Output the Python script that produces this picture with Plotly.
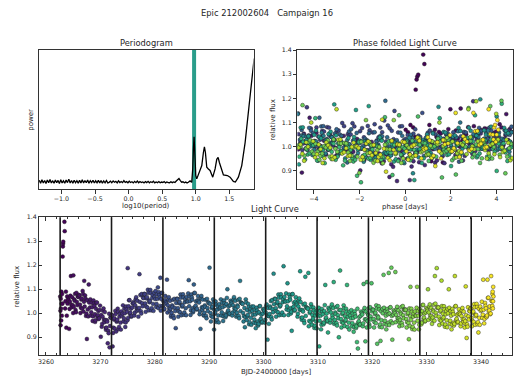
import numpy as np
import plotly.graph_objects as go

# ---------------------------------------------------------------- data
target = "Epic 212002604"
campaign = "Campaign 16"

# Periodogram (log10 of trial period in days, normalised power)
log_period = [
    -1.33, -1.31, -1.29, -1.27, -1.25, -1.23, -1.21, -1.19, -1.17, -1.15,
    -1.13, -1.11, -1.09, -1.07, -1.05, -1.03, -1.01, -0.99, -0.97, -0.95,
    -0.93, -0.91, -0.89, -0.87, -0.85, -0.83, -0.81, -0.79, -0.77, -0.75,
    -0.73, -0.71, -0.69, -0.67, -0.65, -0.63, -0.61, -0.59, -0.57, -0.55,
    -0.53, -0.51, -0.49, -0.47, -0.45, -0.43, -0.41, -0.39, -0.37, -0.35,
    -0.33, -0.31,
    -0.29, -0.27, -0.25, -0.23, -0.21, -0.19, -0.17, -0.15, -0.13, -0.11,
    -0.09, -0.07, -0.05, -0.03, -0.01, 0.01, 0.03, 0.05, 0.07, 0.09,
    0.11, 0.13, 0.15, 0.17, 0.19, 0.21, 0.23, 0.25, 0.27, 0.29,
    0.31, 0.33, 0.35, 0.37, 0.39, 0.41, 0.43, 0.45, 0.47, 0.49,
    0.51, 0.53, 0.55, 0.57, 0.59,
    0.61, 0.63, 0.65, 0.67, 0.69, 0.71, 0.73, 0.75, 0.77, 0.79,
    0.81, 0.83, 0.85, 0.87, 0.89,
    0.915, 0.94, 0.955, 0.965, 0.975, 0.99, 1.00, 1.015, 1.039, 1.064,
    1.09, 1.114, 1.129, 1.144, 1.164, 1.188, 1.213, 1.253, 1.288, 1.313,
    1.333, 1.352, 1.373, 1.412, 1.471, 1.511, 1.56, 1.59, 1.635, 1.685,
    1.735, 1.784, 1.834, 1.869,
]
power = [
    0.063, 0.042, 0.067, 0.044, 0.061, 0.040, 0.065, 0.046, 0.069, 0.043,
    0.060, 0.041, 0.064, 0.045, 0.062, 0.039, 0.067, 0.044, 0.059, 0.042,
    0.065, 0.046, 0.071, 0.043, 0.061, 0.041, 0.063, 0.045, 0.060, 0.042,
    0.062, 0.044, 0.066, 0.043, 0.061, 0.045, 0.064, 0.042, 0.060, 0.046,
    0.063, 0.043, 0.059, 0.045, 0.062, 0.044, 0.060, 0.042, 0.058, 0.045,
    0.061, 0.044,
    0.048, 0.057, 0.045, 0.058, 0.049, 0.055, 0.044, 0.059, 0.047, 0.054,
    0.046, 0.061, 0.048, 0.053, 0.045, 0.056, 0.047, 0.052, 0.044, 0.055,
    0.046, 0.057, 0.045, 0.054, 0.047, 0.051, 0.044, 0.053, 0.046, 0.055,
    0.045, 0.052, 0.047, 0.056, 0.044, 0.051, 0.046, 0.054, 0.045, 0.050,
    0.047, 0.053, 0.044, 0.051, 0.046,
    0.045, 0.052, 0.046, 0.051, 0.047, 0.058, 0.068, 0.076, 0.060, 0.049,
    0.052, 0.045, 0.050, 0.044, 0.049,
    0.058, 0.048, 0.144, 0.286, 0.374, 0.215, 0.097, 0.073, 0.109, 0.133,
    0.168, 0.262, 0.303, 0.262, 0.156, 0.144, 0.133, 0.085, 0.144, 0.213,
    0.227, 0.190, 0.156, 0.101, 0.097, 0.085, 0.055, 0.050, 0.085, 0.168,
    0.333, 0.546, 0.782, 0.936,
]

# Best period and reference epoch of the fold
period = 9.45
epoch = 3262.6

# Light curve: BJD-2400000 and relative flux
bjd = [
    3262.62, 3262.68, 3262.75, 3262.83, 3262.91,
    3263.03, 3263.06, 3263.10, 3263.13, 3263.17, 3263.39, 3263.44, 3263.58, 3263.74, 3263.90,
    3264.08, 3264.25, 3264.41, 3264.58, 3264.74, 3264.91,
    3265.03, 3265.19, 3265.36, 3265.52, 3265.69, 3265.86,
    3266.08, 3266.25, 3266.41, 3266.58, 3266.74, 3266.91,
    3267.03, 3267.19, 3267.36, 3267.52, 3267.69, 3267.86,
    3268.08, 3268.25, 3268.41, 3268.58, 3268.74, 3268.91,
    3269.03, 3269.19, 3269.36, 3269.52, 3269.69, 3269.86,
    3270.08, 3270.25, 3270.41, 3270.58, 3270.74, 3270.91,
    3271.03, 3271.19, 3271.36, 3271.52, 3271.69, 3271.86,
    3272.08, 3272.25, 3272.41, 3272.58, 3272.74, 3272.91,
    3273.03, 3273.19, 3273.36, 3273.52, 3273.69, 3273.86,
    3274.08, 3274.25, 3274.41, 3274.58, 3274.74, 3274.91,
    3275.03, 3275.19, 3275.36, 3275.52, 3275.69, 3275.86,
    3276.08, 3276.25, 3276.41, 3276.58, 3276.74, 3276.91,
    3277.03, 3277.19, 3277.36, 3277.52, 3277.69, 3277.86,
    3278.08, 3278.25, 3278.41, 3278.58, 3278.74, 3278.91,
    3279.03, 3279.19, 3279.36, 3279.52, 3279.69, 3279.86,
    3280.08, 3280.25, 3280.41, 3280.58, 3280.74, 3280.91,
    3281.03, 3281.19, 3281.36, 3281.52, 3281.69, 3281.86,
    3282.08, 3282.25, 3282.41, 3282.58, 3282.74, 3282.91,
    3283.03, 3283.19, 3283.36, 3283.52, 3283.69, 3283.86,
    3284.08, 3284.25, 3284.41, 3284.58, 3284.74, 3284.91,
    3285.03, 3285.19, 3285.36, 3285.52, 3285.69, 3285.86,
    3286.08, 3286.25, 3286.41, 3286.58, 3286.74, 3286.91,
    3287.03, 3287.19, 3287.36, 3287.52, 3287.69, 3287.86,
    3288.08, 3288.25, 3288.41, 3288.58, 3288.74, 3288.91,
    3289.03, 3289.19, 3289.36, 3289.52, 3289.69, 3289.86,
    3290.08, 3290.25, 3290.41, 3290.58, 3290.74, 3290.91,
    3291.03, 3291.19, 3291.36, 3291.52, 3291.69, 3291.86,
    3292.08, 3292.25, 3292.41, 3292.58, 3292.74, 3292.91,
    3293.03, 3293.19, 3293.36, 3293.52, 3293.69, 3293.86,
    3294.08, 3294.25, 3294.41, 3294.58, 3294.74, 3294.91,
    3295.03, 3295.19, 3295.36, 3295.52, 3295.69, 3295.86,
    3296.08, 3296.25, 3296.41, 3296.58, 3296.74, 3296.91,
    3297.03, 3297.19, 3297.36, 3297.52, 3297.69, 3297.86,
    3298.08, 3298.25, 3298.41, 3298.58, 3298.74, 3298.91,
    3299.03, 3299.19, 3299.36, 3299.52, 3299.69, 3299.86,
    3300.08, 3300.25, 3300.41, 3300.58, 3300.74, 3300.91,
    3301.03, 3301.19, 3301.36, 3301.52, 3301.69, 3301.86,
    3302.08, 3302.25, 3302.41, 3302.58, 3302.74, 3302.91,
    3303.03, 3303.19, 3303.36, 3303.52, 3303.69, 3303.86,
    3304.08, 3304.25, 3304.41, 3304.58, 3304.74, 3304.91,
    3305.03, 3305.19, 3305.36, 3305.52, 3305.69, 3305.86,
    3306.08, 3306.25, 3306.41, 3306.58, 3306.74, 3306.91,
    3307.03, 3307.19, 3307.36, 3307.52, 3307.69, 3307.86,
    3308.08, 3308.25, 3308.41, 3308.58, 3308.74, 3308.91,
    3309.03, 3309.19, 3309.36, 3309.52, 3309.69, 3309.86,
    3310.08, 3310.25, 3310.41, 3310.58, 3310.74, 3310.91,
    3311.03, 3311.19, 3311.36, 3311.52, 3311.69, 3311.86,
    3312.08, 3312.25, 3312.41, 3312.58, 3312.74, 3312.91,
    3313.03, 3313.19, 3313.36, 3313.52, 3313.69, 3313.86,
    3314.08, 3314.25, 3314.41, 3314.58, 3314.74, 3314.91,
    3315.03, 3315.19, 3315.36, 3315.52, 3315.69, 3315.86,
    3316.08, 3316.25, 3316.41, 3316.58, 3316.74, 3316.91,
    3317.03, 3317.19, 3317.36, 3317.52, 3317.69, 3317.86,
    3318.08, 3318.25, 3318.41, 3318.58, 3318.74, 3318.91,
    3319.03, 3319.19, 3319.36, 3319.52, 3319.69, 3319.86,
    3320.08, 3320.25, 3320.41, 3320.58, 3320.74, 3320.91,
    3321.03, 3321.19, 3321.36, 3321.52, 3321.69, 3321.86,
    3322.08, 3322.25, 3322.41, 3322.58, 3322.74, 3322.91,
    3323.03, 3323.19, 3323.36, 3323.52, 3323.69, 3323.86,
    3324.08, 3324.25, 3324.41, 3324.58, 3324.74, 3324.91,
    3325.03, 3325.19, 3325.36, 3325.52, 3325.69, 3325.86,
    3326.08, 3326.25, 3326.41, 3326.58, 3326.74, 3326.91,
    3327.03, 3327.19, 3327.36, 3327.52, 3327.69, 3327.86,
    3328.08, 3328.25, 3328.41, 3328.58, 3328.74, 3328.91,
    3329.03, 3329.19, 3329.36, 3329.52, 3329.69, 3329.86,
    3330.08, 3330.25, 3330.41, 3330.58, 3330.74, 3330.91,
    3331.03, 3331.19, 3331.36, 3331.52, 3331.69, 3331.86,
    3332.08, 3332.25, 3332.41, 3332.58, 3332.74, 3332.91,
    3333.03, 3333.19, 3333.36, 3333.52, 3333.69, 3333.86,
    3334.08, 3334.25, 3334.41, 3334.58, 3334.74, 3334.91,
    3335.03, 3335.19, 3335.36, 3335.52, 3335.69, 3335.86,
    3336.08, 3336.25, 3336.41, 3336.58, 3336.74, 3336.91,
    3337.03, 3337.19, 3337.36, 3337.52, 3337.69, 3337.86,
    3338.08, 3338.25, 3338.41, 3338.58, 3338.74, 3338.91,
    3339.03, 3339.19, 3339.36, 3339.52, 3339.69, 3339.86,
    3340.08, 3340.25, 3340.41, 3340.58, 3340.74, 3340.91,
    3341.03, 3341.19, 3341.36, 3341.52, 3341.69, 3341.86,
    3342.04, 3342.10, 3342.17, 3342.24,
    # interleaved cadences
    3262.65, 3262.72, 3262.79, 3262.87, 3262.95,
    3263.52, 3263.66, 3263.82, 3263.97,
    3264.16, 3264.33, 3264.49, 3264.66, 3264.82, 3264.99,
    3265.11, 3265.27, 3265.44, 3265.61, 3265.77, 3265.94,
    3266.16, 3266.33, 3266.49, 3266.66, 3266.82, 3266.99,
    3267.11, 3267.27, 3267.44, 3267.61, 3267.77, 3267.94,
    3268.16, 3268.33, 3268.49, 3268.66, 3268.82, 3268.99,
    3269.11, 3269.27, 3269.44, 3269.61, 3269.77, 3269.94,
    3270.16, 3270.33, 3270.49, 3270.66, 3270.82, 3270.99,
    3271.11, 3271.27, 3271.44, 3271.61, 3271.77, 3271.94,
    3272.16, 3272.33, 3272.49, 3272.66, 3272.82, 3272.99,
    3273.11, 3273.27, 3273.44, 3273.61, 3273.77, 3273.94,
    3274.16, 3274.33, 3274.49, 3274.66, 3274.82, 3274.99,
    3275.11, 3275.27, 3275.44, 3275.61, 3275.77, 3275.94,
    3276.16, 3276.33, 3276.49, 3276.66, 3276.82, 3276.99,
    3277.11, 3277.27, 3277.44, 3277.61, 3277.77, 3277.94,
    3278.16, 3278.33, 3278.49, 3278.66, 3278.82, 3278.99,
    3279.11, 3279.27, 3279.44, 3279.61, 3279.77, 3279.94,
    3280.16, 3280.33, 3280.49, 3280.66, 3280.82, 3280.99,
    3281.11, 3281.27, 3281.44, 3281.61, 3281.77, 3281.94,
    3282.16, 3282.33, 3282.49, 3282.66, 3282.82, 3282.99,
    3283.11, 3283.27, 3283.44, 3283.61, 3283.77, 3283.94,
    3284.16, 3284.33, 3284.49, 3284.66, 3284.82, 3284.99,
    3285.11, 3285.27, 3285.44, 3285.61, 3285.77, 3285.94,
    3286.16, 3286.33, 3286.49, 3286.66, 3286.82, 3286.99,
    3287.11, 3287.27, 3287.44, 3287.61, 3287.77, 3287.94,
    3288.16, 3288.33, 3288.49, 3288.66, 3288.82, 3288.99,
    3289.11, 3289.27, 3289.44, 3289.61, 3289.77, 3289.94,
    3290.16, 3290.33, 3290.49, 3290.66, 3290.82, 3290.99,
    3291.11, 3291.27, 3291.44, 3291.61, 3291.77, 3291.94,
    3292.16, 3292.33, 3292.49, 3292.66, 3292.82, 3292.99,
    3293.11, 3293.27, 3293.44, 3293.61, 3293.77, 3293.94,
    3294.16, 3294.33, 3294.49, 3294.66, 3294.82, 3294.99,
    3295.11, 3295.27, 3295.44, 3295.61, 3295.77, 3295.94,
    3296.16, 3296.33, 3296.49, 3296.66, 3296.82, 3296.99,
    3297.11, 3297.27, 3297.44, 3297.61, 3297.77, 3297.94,
    3298.16, 3298.33, 3298.49, 3298.66, 3298.82, 3298.99,
    3299.11, 3299.27, 3299.44, 3299.61, 3299.77, 3299.94,
    3300.16, 3300.33, 3300.49, 3300.66, 3300.82, 3300.99,
    3301.11, 3301.27, 3301.44, 3301.61, 3301.77, 3301.94,
    3302.16, 3302.33, 3302.49, 3302.66, 3302.82, 3302.99,
    3303.11, 3303.27, 3303.44, 3303.61, 3303.77, 3303.94,
    3304.16, 3304.33, 3304.49, 3304.66, 3304.82, 3304.99,
    3305.11, 3305.27, 3305.44, 3305.61, 3305.77, 3305.94,
    3306.16, 3306.33, 3306.49, 3306.66, 3306.82, 3306.99,
    3307.11, 3307.27, 3307.44, 3307.61, 3307.77, 3307.94,
    3308.16, 3308.33, 3308.49, 3308.66, 3308.82, 3308.99,
    3309.11, 3309.27, 3309.44, 3309.61, 3309.77, 3309.94,
    3310.16, 3310.33, 3310.49, 3310.66, 3310.82, 3310.99,
    3311.11, 3311.27, 3311.44, 3311.61, 3311.77, 3311.94,
    3312.16, 3312.33, 3312.49, 3312.66, 3312.82, 3312.99,
    3313.11, 3313.27, 3313.44, 3313.61, 3313.77, 3313.94,
    3314.16, 3314.33, 3314.49, 3314.66, 3314.82, 3314.99,
    3315.11, 3315.27, 3315.44, 3315.61, 3315.77, 3315.94,
    3316.16, 3316.33, 3316.49, 3316.66, 3316.82, 3316.99,
    3317.11, 3317.27, 3317.44, 3317.61, 3317.77, 3317.94,
    3318.16, 3318.33, 3318.49, 3318.66, 3318.82, 3318.99,
    3319.11, 3319.27, 3319.44, 3319.61, 3319.77, 3319.94,
    3320.16, 3320.33, 3320.49, 3320.66, 3320.82, 3320.99,
    3321.11, 3321.27, 3321.44, 3321.61, 3321.77, 3321.94,
    3322.16, 3322.33, 3322.49, 3322.66, 3322.82, 3322.99,
    3323.11, 3323.27, 3323.44, 3323.61, 3323.77, 3323.94,
    3324.16, 3324.33, 3324.49, 3324.66, 3324.82, 3324.99,
    3325.11, 3325.27, 3325.44, 3325.61, 3325.77, 3325.94,
    3326.16, 3326.33, 3326.49, 3326.66, 3326.82, 3326.99,
    3327.11, 3327.27, 3327.44, 3327.61, 3327.77, 3327.94,
    3328.16, 3328.33, 3328.49, 3328.66, 3328.82, 3328.99,
    3329.11, 3329.27, 3329.44, 3329.61, 3329.77, 3329.94,
    3330.16, 3330.33, 3330.49, 3330.66, 3330.82, 3330.99,
    3331.11, 3331.27, 3331.44, 3331.61, 3331.77, 3331.94,
    3332.16, 3332.33, 3332.49, 3332.66, 3332.82, 3332.99,
    3333.11, 3333.27, 3333.44, 3333.61, 3333.77, 3333.94,
    3334.16, 3334.33, 3334.49, 3334.66, 3334.82, 3334.99,
    3335.11, 3335.27, 3335.44, 3335.61, 3335.77, 3335.94,
    3336.16, 3336.33, 3336.49, 3336.66, 3336.82, 3336.99,
    3337.11, 3337.27, 3337.44, 3337.61, 3337.77, 3337.94,
    3338.16, 3338.33, 3338.49, 3338.66, 3338.82, 3338.99,
    3339.11, 3339.27, 3339.44, 3339.61, 3339.77, 3339.94,
    3340.16, 3340.33, 3340.49, 3340.66, 3340.82, 3340.99,
    3341.11, 3341.27, 3341.44, 3341.61, 3341.77, 3341.94,
    3342.07, 3342.14, 3342.21, 3342.28,
]
flux = [
    1.070, 0.950, 1.020, 1.090, 0.990,
    1.040, 1.236, 1.278, 1.290, 1.298, 1.381, 1.342, 1.050, 0.940, 1.070,
    1.061, 0.935, 1.048, 1.155, 1.025, 1.034,
    1.158, 1.058, 1.081, 1.004, 1.047, 1.070,
    1.076, 1.036, 1.023, 1.062, 1.093, 1.007,
    1.135, 1.074, 0.989, 0.893, 1.016, 1.120,
    1.024, 0.991, 1.044, 0.968, 1.053, 1.031,
    0.964, 1.019, 1.045, 0.992, 0.976, 1.014,
    0.902, 0.944, 0.986, 1.020, 0.963, 0.972,
    0.931, 0.971, 0.875, 0.917, 0.858, 0.983,
    0.993, 0.862, 0.940, 0.979, 1.010, 0.924,
    0.968, 1.019, 0.934, 0.986, 0.961, 1.008,
    0.999, 0.966, 1.019, 0.943, 1.028, 1.006,
    1.188, 1.029, 1.055, 1.002, 0.986, 1.024,
    1.046, 0.991, 1.033, 1.067, 1.010, 1.019,
    1.013, 1.163, 1.076, 0.999, 1.042, 1.065,
    1.081, 1.041, 1.028, 1.067, 1.098, 1.012,
    1.046, 1.097, 1.012, 1.064, 1.039, 1.086,
    1.059, 1.026, 1.079, 1.108, 1.088, 1.066,
    1.148, 1.059, 1.085, 1.032, 1.016, 1.054,
    1.046, 1.140, 1.033, 1.067, 1.010, 1.019,
    0.993, 1.033, 1.056, 0.979, 1.022, 0.938,
    1.061, 1.021, 1.008, 1.047, 1.078, 0.992,
    1.028, 1.079, 0.994, 1.046, 1.021, 1.068,
    1.049, 1.138, 1.069, 0.993, 1.078, 1.056,
    1.004, 1.120, 1.085, 1.032, 1.016, 1.054,
    1.051, 0.996, 0.935, 1.072, 1.015, 1.024,
    0.993, 1.033, 1.056, 0.979, 1.022, 1.045,
    1.190, 1.001, 0.988, 1.027, 1.058, 0.932,
    0.998, 1.049, 0.964, 1.016, 0.991, 1.038,
    1.024, 0.991, 1.044, 0.968, 1.053, 1.031,
    0.984, 1.039, 1.100, 1.012, 0.996, 1.034,
    1.046, 0.991, 1.033, 1.067, 1.010, 1.019,
    0.993, 1.033, 1.056, 0.979, 1.135, 1.045,
    1.041, 1.001, 0.988, 0.942, 1.058, 0.972,
    0.988, 1.039, 0.954, 1.006, 0.981, 1.028,
    0.994, 0.961, 1.014, 0.938, 1.023, 1.001,
    0.949, 1.004, 1.030, 0.977, 0.961, 0.999,
    1.016, 0.961, 1.003, 1.037, 0.890, 0.989,
    0.988, 1.028, 1.051, 0.974, 1.017, 1.165,
    1.061, 1.021, 1.008, 1.047, 1.078, 0.992,
    1.028, 1.079, 0.994, 1.046, 1.196, 1.068,
    1.049, 1.016, 1.125, 0.993, 1.078, 1.056,
    0.999, 0.927, 1.080, 1.027, 1.011, 1.049,
    1.041, 0.986, 1.028, 1.062, 1.175, 1.014,
    0.973, 1.013, 1.036, 0.959, 1.152, 1.025,
    1.021, 1.168, 0.968, 1.007, 1.038, 0.952,
    0.973, 1.024, 0.939, 0.991, 0.966, 1.013,
    0.989, 0.862, 1.009, 0.933, 1.018, 0.996,
    0.954, 1.009, 1.118, 0.982, 0.966, 0.920,
    1.016, 0.961, 1.003, 1.037, 0.980, 1.130,
    0.963, 1.003, 1.026, 0.949, 0.992, 0.900,
    1.178, 0.976, 0.963, 1.002, 1.033, 0.947,
    0.968, 1.019, 1.118, 0.986, 0.961, 1.008,
    0.979, 0.946, 0.999, 0.923, 1.008, 0.986,
    0.939, 0.880, 0.853, 0.967, 0.951, 0.989,
    1.001, 0.946, 1.122, 1.022, 0.883, 0.974,
    1.130, 0.998, 1.021, 0.944, 0.987, 1.125,
    1.016, 0.976, 0.963, 1.002, 1.033, 0.873,
    0.978, 1.029, 0.944, 0.885, 0.971, 1.018,
    1.160, 0.956, 1.009, 0.933, 1.018, 0.996,
    1.168, 0.999, 1.025, 1.190, 0.890, 0.994,
    1.006, 1.172, 0.993, 1.027, 0.970, 0.979,
    0.963, 1.003, 1.026, 0.949, 0.992, 1.015,
    1.016, 0.976, 0.963, 1.002, 0.892, 0.947,
    1.110, 1.019, 0.934, 0.986, 0.961, 1.008,
    0.989, 1.110, 1.009, 0.933, 1.018, 0.996,
    0.954, 1.009, 1.035, 0.982, 0.966, 1.004,
    1.016, 1.100, 1.003, 1.037, 0.980, 0.989,
    0.973, 1.013, 1.036, 1.155, 1.002, 1.188,
    1.026, 0.986, 0.973, 1.012, 1.136, 0.957,
    0.978, 1.029, 0.944, 0.996, 0.971, 1.018,
    1.100, 0.956, 1.009, 0.933, 1.018, 0.996,
    0.949, 1.155, 1.030, 0.977, 0.961, 0.999,
    1.001, 0.946, 0.988, 1.022, 0.965, 0.974,
    0.958, 1.112, 0.897, 0.944, 0.987, 1.010,
    1.021, 0.981, 0.968, 1.007, 1.038, 0.952,
    0.988, 1.039, 0.954, 0.920, 0.981, 1.028,
    1.014, 0.981, 1.140, 0.958, 1.043, 1.021,
    0.984, 1.140, 1.065, 1.012, 0.996, 1.155,
    1.050, 1.080, 1.020, 1.110,
    # interleaved cadences
    1.010, 1.060, 0.970, 1.040, 1.080,
    1.020, 1.090, 0.990, 1.040,
    1.055, 1.018, 1.073, 1.035, 1.067, 1.001,
    1.027, 1.052, 1.014, 1.085, 1.034, 1.068,
    1.074, 1.001, 1.057, 1.019, 1.080, 1.048,
    1.028, 1.061, 0.998, 1.054, 0.987, 1.045,
    1.058, 1.004, 1.025, 0.987, 1.041, 0.996,
    0.971, 1.044, 0.987, 1.009, 0.979, 1.032,
    0.993, 0.956, 1.011, 0.973, 1.005, 0.939,
    0.940, 0.965, 0.927, 0.998, 0.947, 0.981,
    0.991, 0.918, 0.974, 0.936, 0.997, 0.965,
    0.973, 1.006, 0.943, 0.999, 0.932, 0.990,
    1.033, 0.979, 1.000, 0.962, 1.016, 0.971,
    0.981, 1.054, 0.997, 1.019, 0.989, 1.042,
    1.040, 1.003, 1.058, 1.020, 1.052, 0.986,
    1.022, 1.047, 1.009, 1.080, 1.029, 1.063,
    1.079, 1.006, 1.062, 1.024, 1.085, 1.053,
    1.051, 1.084, 1.021, 1.077, 1.010, 1.068,
    1.093, 1.039, 1.060, 1.022, 1.076, 1.031,
    1.011, 1.084, 1.027, 1.049, 1.019, 1.072,
    1.040, 1.003, 1.058, 1.020, 1.052, 0.986,
    1.002, 1.027, 0.989, 1.060, 1.009, 1.043,
    1.059, 0.986, 1.042, 1.004, 1.065, 1.033,
    1.033, 1.066, 1.003, 1.059, 0.992, 1.050,
    1.083, 1.029, 1.050, 1.012, 1.066, 1.021,
    1.011, 1.084, 1.027, 1.049, 1.019, 1.072,
    1.045, 1.008, 1.063, 1.025, 1.057, 0.991,
    1.002, 1.027, 0.989, 1.060, 1.009, 1.043,
    1.039, 0.966, 1.022, 0.984, 1.045, 1.013,
    1.003, 1.036, 0.973, 1.029, 0.962, 1.020,
    1.058, 1.004, 1.025, 0.987, 1.041, 0.996,
    0.991, 1.064, 1.007, 1.029, 0.999, 1.052,
    1.040, 1.003, 1.058, 1.020, 1.052, 0.986,
    1.002, 1.027, 0.989, 1.060, 1.009, 1.043,
    1.039, 0.966, 1.022, 0.984, 1.045, 1.013,
    0.993, 1.026, 0.963, 1.019, 0.952, 1.010,
    1.028, 0.974, 0.995, 0.957, 1.011, 0.966,
    0.956, 1.029, 0.972, 0.994, 0.964, 1.017,
    1.010, 0.973, 1.028, 0.990, 1.022, 0.956,
    0.997, 1.022, 0.984, 1.055, 1.004, 1.038,
    1.059, 0.986, 1.042, 1.004, 1.065, 1.033,
    1.033, 1.066, 1.003, 1.059, 0.992, 1.050,
    1.083, 1.029, 1.050, 1.012, 1.066, 1.021,
    1.006, 1.079, 1.022, 1.044, 1.014, 1.067,
    1.035, 0.998, 1.053, 1.015, 1.047, 0.981,
    0.982, 1.007, 0.969, 1.040, 0.989, 1.023,
    1.019, 0.946, 1.002, 0.964, 1.025, 0.993,
    0.978, 1.011, 0.948, 1.004, 0.937, 0.995,
    1.023, 0.969, 0.990, 0.952, 1.006, 0.961,
    0.961, 1.034, 0.977, 0.999, 0.969, 1.022,
    1.010, 0.973, 1.028, 0.990, 1.022, 0.956,
    0.972, 0.997, 0.959, 1.030, 0.979, 1.013,
    1.014, 0.941, 0.997, 0.959, 1.020, 0.988,
    0.973, 1.006, 0.943, 0.999, 0.932, 0.990,
    1.013, 0.959, 0.980, 0.942, 0.996, 0.951,
    0.946, 1.019, 0.962, 0.984, 0.954, 1.007,
    0.995, 0.958, 1.013, 0.975, 1.007, 0.941,
    0.967, 0.992, 0.954, 1.025, 0.974, 1.008,
    1.014, 0.941, 0.997, 0.959, 1.020, 0.988,
    0.983, 1.016, 0.953, 1.009, 0.942, 1.000,
    1.023, 0.969, 0.990, 0.952, 1.006, 0.961,
    0.951, 1.024, 0.967, 0.989, 0.959, 1.012,
    1.000, 0.963, 1.018, 0.980, 1.012, 0.946,
    0.972, 0.997, 0.959, 1.030, 0.979, 1.013,
    1.014, 0.941, 0.997, 0.959, 1.020, 0.988,
    0.973, 1.006, 0.943, 0.999, 0.932, 0.990,
    1.023, 0.969, 0.990, 0.952, 1.006, 0.961,
    0.961, 1.034, 0.977, 0.999, 0.969, 1.022,
    1.010, 0.973, 1.028, 0.990, 1.022, 0.956,
    0.982, 1.007, 0.969, 1.040, 0.989, 1.023,
    1.024, 0.951, 1.007, 0.969, 1.030, 0.998,
    0.983, 1.016, 0.953, 1.009, 0.942, 1.000,
    1.023, 0.969, 0.990, 0.952, 1.006, 0.961,
    0.956, 1.029, 0.972, 0.994, 0.964, 1.017,
    0.995, 0.958, 1.013, 0.975, 1.007, 0.941,
    0.967, 0.992, 0.954, 1.025, 0.974, 1.008,
    1.019, 0.946, 1.002, 0.964, 1.025, 0.993,
    0.993, 1.026, 0.963, 1.019, 0.952, 1.010,
    1.048, 0.994, 1.015, 0.977, 1.031, 0.986,
    0.991, 1.064, 1.007, 1.029, 0.999, 1.052,
    1.030, 1.090, 1.050, 1.070,
]

assert len(log_period) == len(power)
assert len(bjd) == len(flux)

# ---------------------------------------------------------------- derived
order = np.argsort(bjd)
t = np.asarray(bjd)[order]
f = np.asarray(flux)[order]
phase = np.mod(t - epoch + period / 2.0, period) - period / 2.0
epochs = [epoch + k * period for k in range(int((t.max() - epoch) // period) + 1)]

# ---------------------------------------------------------------- layout helpers
W, H = 515, 382
FONT = "DejaVu Sans"
INK = "#262626"


def fx(p):
    return p / W


def fy(p):
    return 1 - p / H


marker = dict(
    color=t, colorscale="Viridis", cmin=t.min(), cmax=t.max(),
    size=3.9, line=dict(color="rgba(25,25,25,0.85)", width=0.5),
)

fig = go.Figure()

# periodogram
fig.add_trace(go.Scatter(
    x=log_period, y=power, mode="lines",
    line=dict(color="black", width=1.3),
    xaxis="x", yaxis="y", hoverinfo="skip", showlegend=False,
))
# phase folded light curve
fig.add_trace(go.Scatter(
    x=phase, y=f, mode="markers", marker=marker,
    xaxis="x2", yaxis="y2", hoverinfo="skip", showlegend=False,
))
# full light curve
fig.add_trace(go.Scatter(
    x=t, y=f, mode="markers", marker=marker,
    xaxis="x3", yaxis="y3", hoverinfo="skip", showlegend=False,
))

tickfont = dict(family=FONT, size=6.3, color=INK)
frame = dict(showline=True, linecolor="#333333", linewidth=1, mirror=True,
             showgrid=False, zeroline=False, tickfont=tickfont,
             tickcolor="#333333", tickwidth=0.8)

fig.update_layout(
    width=W, height=H,
    margin=dict(l=0, r=0, t=0, b=0),
    paper_bgcolor="white", plot_bgcolor="white",
    font=dict(family=FONT, color=INK),
    xaxis=dict(domain=[fx(38), fx(253)], range=[-1.335, 1.86], anchor="y",
               tickvals=[-1.0, -0.5, 0.0, 0.5, 1.0, 1.5], tickformat=".1f",
               ticks="outside", ticklen=3.5, **frame),
    yaxis=dict(domain=[fy(187), fy(46)], range=[0, 1], anchor="x",
               showticklabels=False, ticks="", **frame),
    xaxis2=dict(domain=[fx(297), fx(513)], range=[-period / 2, period / 2], anchor="y2",
                tickvals=[-4, -2, 0, 2, 4], ticks="outside", ticklen=3.5, **frame),
    yaxis2=dict(domain=[fy(187), fy(46.5)], range=[0.825, 1.40], anchor="x2",
                tickvals=[0.9, 1.0, 1.1, 1.2, 1.3, 1.4], tickformat=".1f",
                ticks="outside", ticklen=3.5, **frame),
    xaxis3=dict(domain=[fx(38), fx(512)], range=[3258.7, 3345.7], anchor="y3",
                tickvals=[3260, 3270, 3280, 3290, 3300, 3310, 3320, 3330, 3340],
                ticks="inside", ticklen=3.5,
                minor=dict(dtick=2, tick0=3260, ticks="inside", ticklen=2,
                           tickcolor="#333333", tickwidth=0.7),
                **{**frame, "mirror": "ticks"}),
    yaxis3=dict(domain=[fy(355), fy(215.5)], range=[0.825, 1.40], anchor="x3",
                tickvals=[0.9, 1.0, 1.1, 1.2, 1.3, 1.4], tickformat=".1f",
                ticks="inside", ticklen=3.5,
                **{**frame, "mirror": "ticks"}),
)

shapes = [dict(type="line", xref="x", yref="y domain",
               x0=np.log10(period), x1=np.log10(period), y0=0, y1=1,
               line=dict(color="#2a9d8a", width=4), layer="below")]
for e in epochs:
    shapes.append(dict(type="line", xref="x3", yref="y3 domain",
                       x0=e, x1=e, y0=0, y1=1,
                       line=dict(color="#1a1a1a", width=1.6), layer="above"))
fig.update_layout(shapes=shapes)


def label(text, x, y, size, angle=0):
    fig.add_annotation(text=text, x=fx(x), y=fy(y), xref="paper", yref="paper",
                       showarrow=False, xanchor="center", yanchor="middle",
                       textangle=angle,
                       font=dict(family=FONT, size=size, color=INK))


label(f"{target}   {campaign}", 267, 9.5, 8.4)
label("Periodogram", 145.5, 39, 8.3)
label("Phase folded Light Curve", 405, 39, 8.3)
label("Light Curve", 275, 207.5, 8.3)
label("power", 30.5, 116.5, 7, -90)
label("log10(period)", 145.5, 204, 7)
label("relative flux", 273, 116.5, 7, -90)
label("phase [days]", 405, 205, 7)
label("relative flux", 16.5, 285, 7, -90)
label("BJD-2400000 [days]", 276, 371.5, 7)

fig.write_html("out.html")
